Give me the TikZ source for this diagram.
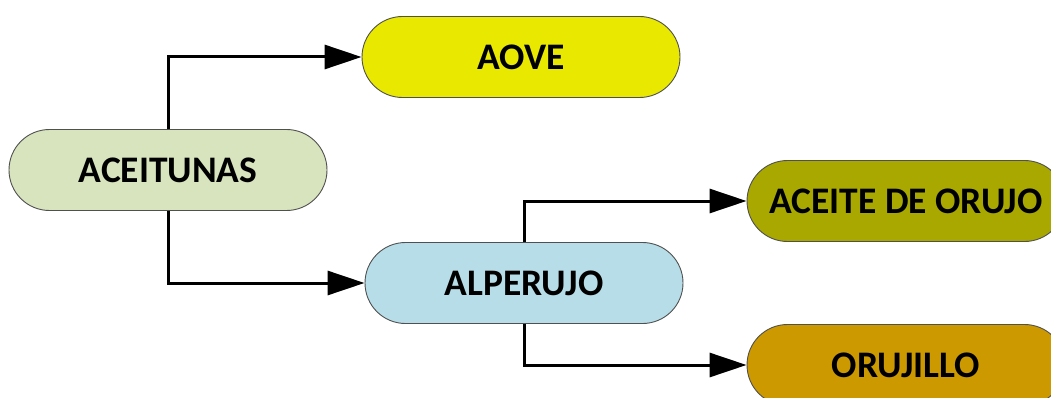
\documentclass[tikz,border=0pt]{standalone}
\usepackage{fontspec}
\setmainfont{Carlito}
\usetikzlibrary{arrows.meta}
\definecolor{cAceit}{HTML}{D7E4BD}
\definecolor{cAove}{HTML}{E8E800}
\definecolor{cAlper}{HTML}{B7DEE8}
\definecolor{cOrujo}{HTML}{A8A800}
\definecolor{cOrujillo}{HTML}{CC9900}
\definecolor{cEdge}{HTML}{505050}
\tikzset{
  pill/.style={draw=cEdge, line width=0.9pt, rounded corners=40.5pt,
    minimum width=318pt, minimum height=81pt, inner sep=0pt,
    font=\fontsize{37.5}{40}\selectfont\bfseries, text=black},
  link/.style={draw=black, line width=3pt,
    -{Triangle[length=37pt, width=24pt]}}
}
\begin{document}
\begin{tikzpicture}[x=1pt, y=-1pt]
  \useasboundingbox (0,0) rectangle (1051,398);
  \clip (0,0) rectangle (1051,398);
  \node[pill, fill=cAceit]    (aceit) at (168,170) {ACEITUNAS};
  \node[pill, fill=cAove]     (aove)  at (521,57)  {AOVE};
  \node[pill, fill=cAlper]    (alper) at (524,283) {ALPERUJO};
  \node[pill, fill=cOrujo]    (orujo) at (906,201) {ACEITE DE ORUJO};
  \node[pill, fill=cOrujillo] (oruj2) at (906,365) {ORUJILLO};
  \draw[link] (aceit.north) |- (aove.west);
  \draw[link] (aceit.south) |- (alper.west);
  \draw[link] (alper.north) |- (orujo.west);
  \draw[link] (alper.south) |- (oruj2.west);
\end{tikzpicture}
\end{document}
